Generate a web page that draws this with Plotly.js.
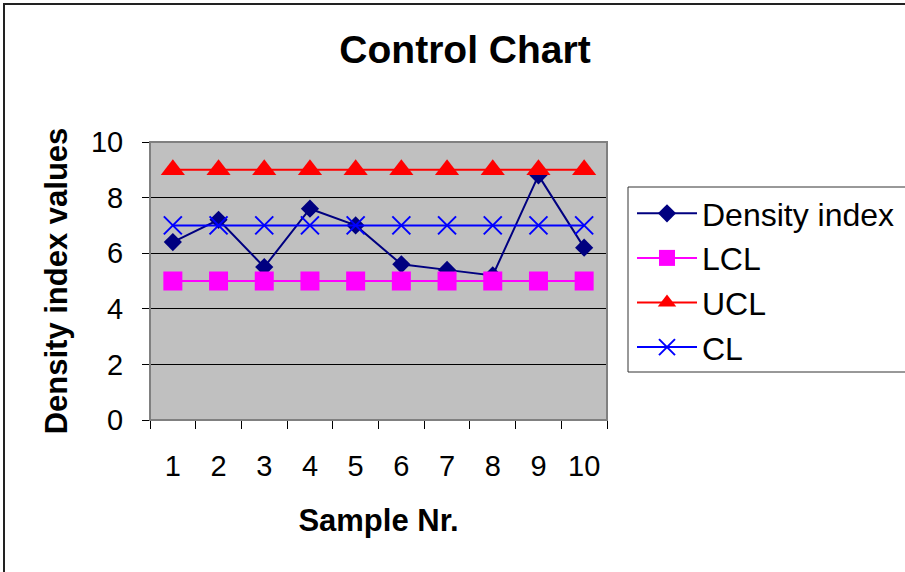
<!DOCTYPE html>
<html>
<head>
<meta charset="utf-8">
<script src="https://cdn.plot.ly/plotly-3.0.1.min.js"></script>
<style>
  html, body { margin: 0; padding: 0; background: #fff; }
  #wrap { position: relative; width: 905px; height: 572px; overflow: hidden; }
  #chart { position: absolute; left: 0; top: 0; width: 905px; height: 572px; }
  #frame { position: absolute; left: 3px; top: 3px; width: 920px; height: 600px;
           border-left: 2px solid #222; border-top: 2px solid #222; pointer-events: none; }
</style>
</head>
<body>
<div id="wrap">
  <div id="chart"></div>
  <div id="frame"></div>
</div>
<script>
const samples = ['1','2','3','4','5','6','7','8','9','10'];
const densityIndex = [6.4, 7.2, 5.5, 7.6, 7.0, 5.6, 5.4, 5.2, 8.8, 6.2];
const lcl = [5, 5, 5, 5, 5, 5, 5, 5, 5, 5];
const ucl = [9, 9, 9, 9, 9, 9, 9, 9, 9, 9];
const cl  = [7, 7, 7, 7, 7, 7, 7, 7, 7, 7];
const yTicks = [0, 2, 4, 6, 8, 10];

const traces = [
  { x: samples, y: densityIndex, name: 'Density index', type: 'scatter', mode: 'lines+markers',
    legendgroup: 'a',
    line: { color: '#000080', width: 2 },
    marker: { symbol: 'diamond', size: 14, color: '#000080' } },
  { x: samples, y: lcl, name: 'LCL', type: 'scatter', mode: 'lines+markers',
    legendgroup: 'b',
    line: { color: '#FF00FF', width: 2 },
    marker: { symbol: 'square', size: 19, color: '#FF00FF' } },
  { x: samples, y: ucl, name: 'UCL', type: 'scatter', mode: 'lines+markers',
    legendgroup: 'c',
    line: { color: '#FF0000', width: 2 },
    marker: { symbol: 'triangle-up', size: 21, color: '#FF0000' } },
  { x: samples, y: cl, name: 'CL', type: 'scatter', mode: 'lines+markers',
    legendgroup: 'd',
    line: { color: '#0000FF', width: 2 },
    marker: { symbol: 'x-thin-open', size: 18, color: '#0000FF', line: { color: '#0000FF', width: 2 } } }
];

const layout = {
  width: 905, height: 572,
  margin: { l: 150, r: 298, t: 142, b: 152, autoexpand: false },
  paper_bgcolor: '#ffffff',
  plot_bgcolor: '#C0C0C0',
  font: { family: 'Liberation Sans, Arial, sans-serif', color: '#000' },
  title: { text: '<b>Control Chart</b>', font: { size: 39, family: 'Liberation Sans, Arial, sans-serif', color: '#000' },
           xref: 'container', yref: 'container', x: 465 / 905, y: 1 - 49 / 572, xanchor: 'center', yanchor: 'middle' },
  xaxis: {
    type: 'category', range: [-0.5, 9.5], tickson: 'boundaries', ticks: 'outside', ticklen: 8, tickcolor: '#000', tickwidth: 1,
    showgrid: false, showline: true, linecolor: '#000', linewidth: 1,
    tickfont: { size: 29 }, ticklabelstandoff: 20,
    title: { text: '<b>Sample Nr.</b>', font: { size: 31 }, standoff: 28 },
    fixedrange: true
  },
  yaxis: {
    range: [0, 10], tickvals: yTicks, ticktext: yTicks.map(String),
    ticks: 'outside', ticklen: 7, tickcolor: '#000', tickwidth: 1,
    showgrid: true, gridcolor: '#000', gridwidth: 1, zeroline: false,
    showline: true, linecolor: '#000', linewidth: 1,
    tickfont: { size: 29 }, ticklabelstandoff: 13,
    title: { text: '<b>Density index values</b>', font: { size: 31 }, standoff: 14 },
    fixedrange: true
  },
  shapes: [
    { type: 'rect', xref: 'paper', yref: 'paper', x0: 0, x1: 1, y0: 0, y1: 1,
      line: { color: '#808080', width: 2 }, fillcolor: 'rgba(0,0,0,0)', layer: 'above' },
    { type: 'rect', xref: 'paper', yref: 'paper',
      x0: (628 - 150) / 457, x1: (930 - 150) / 457, y0: (420 - 372) / 278, y1: (420 - 187) / 278,
      line: { color: '#333', width: 1 }, fillcolor: 'rgba(0,0,0,0)', layer: 'above' }
  ],
  legend: {
    x: (632 - 150) / 457, y: (420 - 186) / 278, xanchor: 'left', yanchor: 'top',
    bgcolor: 'rgba(0,0,0,0)', borderwidth: 0,
    font: { size: 32, color: '#000' }, tracegroupgap: 0, itemwidth: 60
  },
  showlegend: true
};

Plotly.newPlot('chart', traces, layout, { staticPlot: true, displayModeBar: false });
</script>
</body>
</html>
